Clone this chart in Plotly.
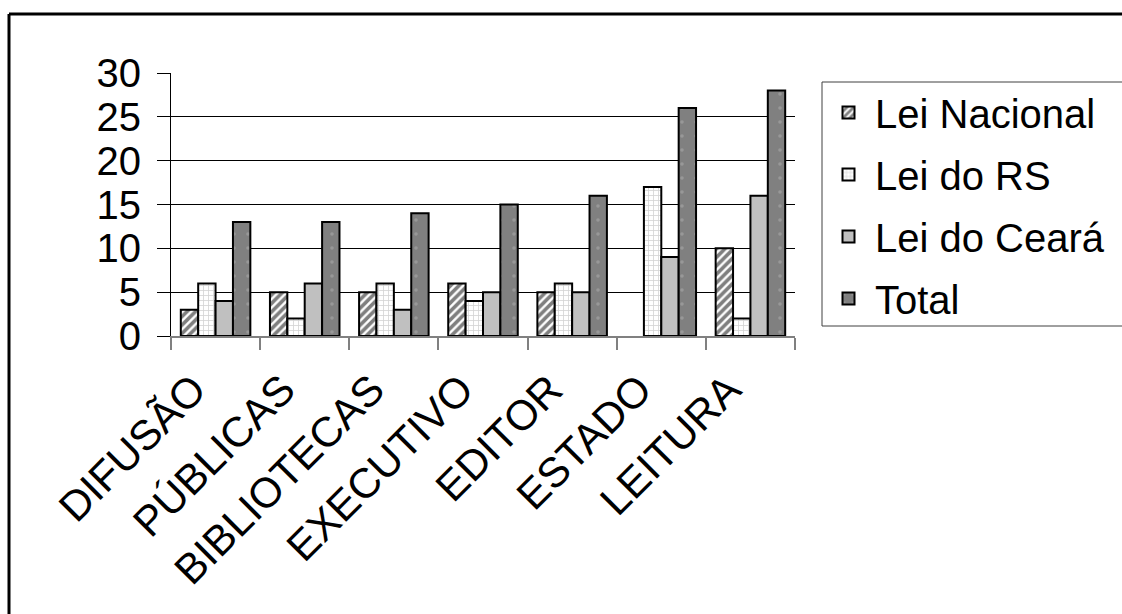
import plotly.graph_objects as go

categories = ["DIFUSÃO", "PÚBLICAS", "BIBLIOTECAS", "EXECUTIVO", "EDITOR", "ESTADO", "LEITURA"]
lei_nacional = [3, 5, 5, 6, 5, 0, 10]
lei_rs = [6, 2, 6, 4, 6, 17, 2]
lei_ceara = [4, 6, 3, 5, 5, 9, 16]
total = [13, 13, 14, 15, 16, 26, 28]
y_ticks = [0, 5, 10, 15, 20, 25, 30]

FONT = "Liberation Sans, Arial, sans-serif"
FS = 40

# hide outline of zero-height bars
nac_line_w = [2 if v > 0 else 0 for v in lei_nacional]

fig = go.Figure()
fig.add_trace(go.Bar(
    name="Lei Nacional", x=categories, y=lei_nacional, legendgroup="a",
    marker=dict(color="white", line=dict(color="black", width=nac_line_w),
                pattern=dict(shape="/", fgcolor="black", bgcolor="white", size=6, solidity=0.6)),
))
fig.add_trace(go.Bar(
    name="Lei do RS", x=categories, y=lei_rs, legendgroup="b",
    marker=dict(color="white", line=dict(color="black", width=2),
                pattern=dict(shape="+", fgcolor="#a8a8a8", bgcolor="white", size=5, solidity=0.3)),
))
fig.add_trace(go.Bar(
    name="Lei do Ceará", x=categories, y=lei_ceara, legendgroup="c",
    marker=dict(color="#c0c0c0", line=dict(color="black", width=2)),
))
fig.add_trace(go.Bar(
    name="Total", x=categories, y=total, legendgroup="d",
    marker=dict(color="#808080", line=dict(color="black", width=2),
                pattern=dict(shape=".", fgcolor="#b0b0b0", bgcolor="#808080", size=14, solidity=0.05)),
))

L, R, T, B = 171, 795, 73, 336
W, H = 1122, 614

def px2x(p):
    return (p - L) / (R - L)

def py2y(p):
    return (B - p) / (B - T)

fig.update_layout(
    width=W, height=H,
    margin=dict(l=L, r=W - R, t=T, b=H - B, pad=0),
    paper_bgcolor="white", plot_bgcolor="white",
    barmode="group", bargap=0.22, bargroupgap=0,
    font=dict(family=FONT, color="black", size=FS),
    showlegend=True,
    legend=dict(
        x=px2x(822), y=py2y(80), xanchor="left", yanchor="top",
        borderwidth=0, bgcolor="rgba(0,0,0,0)",
        font=dict(size=FS, family=FONT), tracegroupgap=7,
        traceorder="grouped", itemwidth=43,
    ),
    xaxis=dict(
        type="category", tickangle=-45, tickson="boundaries",
        ticks="outside", ticklen=12, tickcolor="#808080", tickwidth=2,
        showline=True, linecolor="#808080", linewidth=2,
        showgrid=False, tickfont=dict(size=42, family=FONT),
        ticklabelshift=-22, ticklabelstandoff=10,
    ),
    yaxis=dict(
        range=[0, 30], tickvals=y_ticks, ticktext=[str(v) for v in y_ticks],
        ticks="outside", ticklen=13, tickcolor="black", tickwidth=1,
        showline=True, linecolor="black", linewidth=1,
        showgrid=True, gridcolor="black", gridwidth=1, zeroline=False,
        tickfont=dict(size=FS, family=FONT), ticklabelstandoff=8,
    ),
    shapes=[
        # outer chart frame
        dict(type="line", xref="paper", yref="paper",
             x0=px2x(9), x1=px2x(W + 5), y0=py2y(14), y1=py2y(14),
             line=dict(color="black", width=3)),
        dict(type="line", xref="paper", yref="paper",
             x0=px2x(9), x1=px2x(9), y0=py2y(14), y1=py2y(H + 5),
             line=dict(color="black", width=3)),
        # legend frame
        dict(type="rect", xref="paper", yref="paper",
             x0=px2x(822), x1=px2x(W + 5), y0=py2y(82), y1=py2y(326),
             line=dict(color="#404040", width=1), layer="below"),
    ],
)

fig.write_html("out.html")
